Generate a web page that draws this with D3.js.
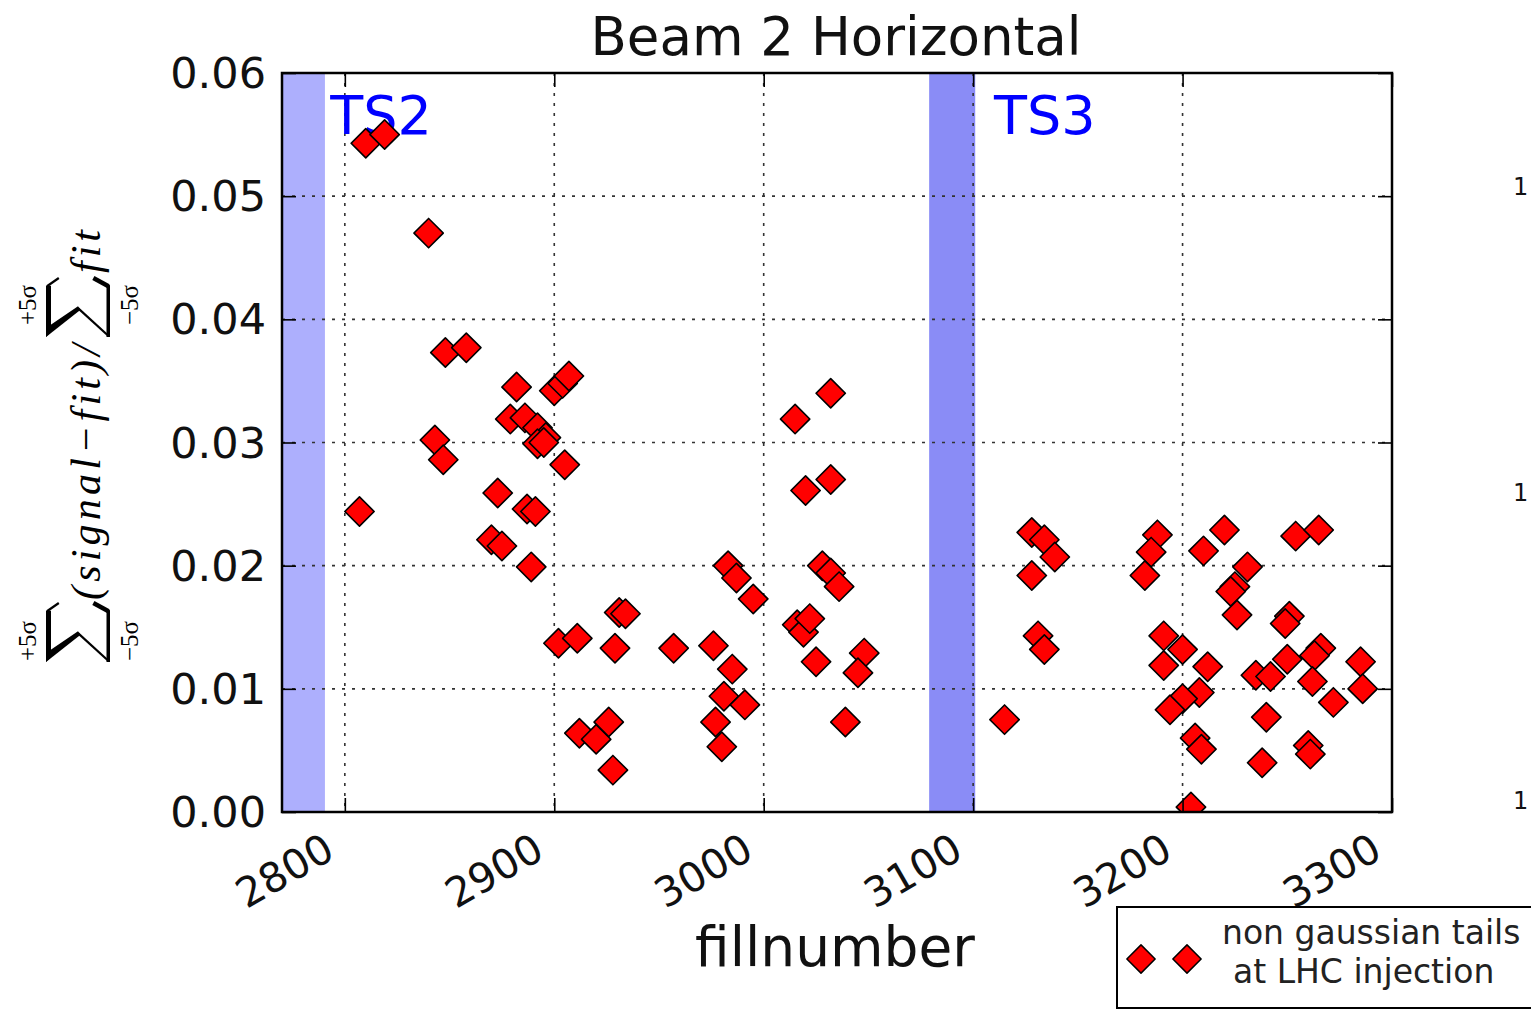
<!DOCTYPE html>
<html>
<head>
<meta charset="utf-8">
<script src="https://cdnjs.cloudflare.com/ajax/libs/d3/7.8.5/d3.min.js"></script>
<style>
  body { margin: 0; background: #fff; }
  svg { display: block; font-family: "DejaVu Sans", sans-serif; }
</style>
</head>
<body>
<svg id="chart" width="1531" height="1011"></svg>
<script>
// fill numbers and tail fractions
const fillNumbers = [
  2810, 2819, 2840, 2848, 2858, 2882, 2900, 2904, 2907, 2879,
  2886, 2892, 2896, 2843, 2847, 2892, 2895, 2905, 2807, 2873,
  2887, 2891, 2870, 2875, 2889, 2902, 2911, 2929, 2931, 2934,
  2912, 2920, 2926, 2928, 3032, 3015, 3032, 3020, 2983, 2987,
  2995, 3028, 3032, 3036, 3016, 3019, 3022, 2957, 2976, 2985,
  3025, 3048, 3045, 2981, 2991, 2977, 2980, 3039, 3128, 3134,
  3139, 3128, 3131, 3134, 3115, 3188, 3185, 3182, 3220, 3210,
  3231, 3225, 3223, 3226, 3254, 3265, 3251, 3249, 3191, 3200,
  3191, 3212, 3208, 3200, 3194, 3206, 3209, 3204, 3235, 3242,
  3250, 3266, 3263, 3262, 3272, 3285, 3286, 3240, 3238, 3260,
  3261
];
const tailValues = [
  0.0543, 0.0550, 0.0470, 0.0373, 0.0377, 0.0345, 0.0342, 0.0348, 0.0354, 0.0319,
  0.0320, 0.0312, 0.0304, 0.0302, 0.0286, 0.0299, 0.0300, 0.0282, 0.0244, 0.0259,
  0.0246, 0.0244, 0.0221, 0.0216, 0.0199, 0.0137, 0.0141, 0.0133, 0.0162, 0.0161,
  0.0064, 0.0059, 0.0073, 0.0034, 0.0340, 0.0319, 0.0270, 0.0261, 0.0200, 0.0190,
  0.0173, 0.0200, 0.0194, 0.0183, 0.0152, 0.0146, 0.0157, 0.0133, 0.0135, 0.0116,
  0.0122, 0.0129, 0.0113, 0.0094, 0.0087, 0.0073, 0.0053, 0.0073, 0.0227, 0.0221,
  0.0207, 0.0192, 0.0143, 0.0132, 0.0075, 0.0225, 0.0211, 0.0192, 0.0229, 0.0212,
  0.0199, 0.0183, 0.0179, 0.0160, 0.0224, 0.0229, 0.0159, 0.0153, 0.0143, 0.0132,
  0.0119, 0.0118, 0.0097, 0.0092, 0.0083, 0.0060, 0.0051, 0.0004, 0.0111, 0.0110,
  0.0124, 0.0133, 0.0127, 0.0106, 0.0089, 0.0122, 0.0100, 0.0077, 0.0040, 0.0054,
  0.0047
];

// technical stops
const stopNames = ["TS2", "TS3"];
const stopStart = [2760, 3079];
const stopEnd = [2790.5, 3101];
const stopLabelAt = [2793, 3110];
const stopColors = ["#adaffd", "#8a8cf6"];

const xTicks = [2800, 2900, 3000, 3100, 3200, 3300];
const yTicks = [0, 0.01, 0.02, 0.03, 0.04, 0.05, 0.06];

const legendLines = ["non gaussian tails", "at LHC injection"];

const plotLeft = 282, plotRight = 1392, plotTop = 73, plotBottom = 812;

const svg = d3.select("#chart");

const x = d3.scaleLinear().domain([2770, 3300]).range([plotLeft, plotRight]);
const y = d3.scaleLinear().domain([0, 0.06]).range([plotBottom, plotTop]);

const points = fillNumbers.map((f, i) => ({fill: f, value: tailValues[i]}));

svg.append("defs").append("clipPath").attr("id", "plotClip")
  .append("rect")
    .attr("x", plotLeft).attr("y", plotTop)
    .attr("width", plotRight - plotLeft).attr("height", plotBottom - plotTop);

// shaded stops
svg.append("g").attr("clip-path", "url(#plotClip)")
  .selectAll("rect")
  .data(stopNames)
  .enter()
    .append("rect")
    .attr("x", (d, i) => x(stopStart[i]))
    .attr("y", plotTop)
    .attr("width", (d, i) => x(stopEnd[i]) - x(stopStart[i]))
    .attr("height", plotBottom - plotTop)
    .style("fill", (d, i) => stopColors[i]);

// dotted grid
let grid = svg.append("g").attr("class", "grid");
grid.selectAll("line.gx")
  .data(xTicks.slice(0, -1))
  .enter()
    .append("line")
    .attr("x1", d => x(d)).attr("x2", d => x(d))
    .attr("y1", plotTop).attr("y2", plotBottom);
grid.selectAll("line.gy")
  .data(yTicks.slice(1, -1))
  .enter()
    .append("line")
    .attr("x1", plotLeft).attr("x2", plotRight)
    .attr("y1", d => y(d)).attr("y2", d => y(d));
grid.selectAll("line")
  .style("stroke", "#333")
  .style("stroke-width", 1.6)
  .style("stroke-dasharray", "3,7");

// stop labels
svg.selectAll("text.ts")
  .data(stopNames)
  .enter()
    .append("text")
    .attr("class", "ts")
    .attr("x", (d, i) => x(stopLabelAt[i]))
    .attr("y", 134)
    .style("font-size", "54px")
    .style("fill", "#0000ff")
    .text(d => d);

// diamond markers
const diamond = d3.symbol().type(d3.symbolSquare).size(430);
svg.append("g").attr("clip-path", "url(#plotClip)")
  .selectAll("path")
  .data(points)
  .enter()
    .append("path")
    .attr("d", diamond)
    .attr("transform", d => `translate(${x(d.fill)},${y(d.value)}) rotate(45)`)
    .style("fill", "#ff0000")
    .style("stroke", "#000")
    .style("stroke-width", 1.6)
    .style("stroke-linejoin", "round");

// axes frame with inward ticks on all sides
const tickLen = 14;
svg.append("g").attr("transform", `translate(0,${plotBottom})`)
  .call(d3.axisBottom(x).tickValues(xTicks).tickSize(-tickLen).tickFormat(""));
svg.append("g").attr("transform", `translate(0,${plotTop})`)
  .call(d3.axisTop(x).tickValues(xTicks).tickSize(-tickLen).tickFormat(""));
svg.append("g").attr("transform", `translate(${plotLeft},0)`)
  .call(d3.axisLeft(y).tickValues(yTicks).tickSize(-tickLen).tickFormat(""));
svg.append("g").attr("transform", `translate(${plotRight},0)`)
  .call(d3.axisRight(y).tickValues(yTicks).tickSize(-tickLen).tickFormat(""));
svg.selectAll(".domain").remove();
svg.selectAll(".tick line").style("stroke", "#000").style("stroke-width", 1.6);

svg.append("rect")
  .attr("x", plotLeft).attr("y", plotTop)
  .attr("width", plotRight - plotLeft).attr("height", plotBottom - plotTop)
  .style("fill", "none")
  .style("stroke", "#000")
  .style("stroke-width", 2.5);

// tick labels
svg.selectAll("text.ylab")
  .data(yTicks)
  .enter()
    .append("text")
    .attr("x", 266)
    .attr("y", d => y(d) + 15)
    .attr("text-anchor", "end")
    .style("font-size", "43px")
    .style("fill", "#111")
    .text(d => d3.format(".2f")(d));

svg.selectAll("text.xlab")
  .data(xTicks)
  .enter()
    .append("text")
    .attr("transform", d => `translate(${x(d) - 8},${plotBottom + 45}) rotate(-30)`)
    .attr("text-anchor", "end")
    .style("font-size", "41px")
    .style("fill", "#111")
    .text(d => d);

// title and x label
svg.append("text")
  .attr("x", 836).attr("y", 55)
  .attr("text-anchor", "middle")
  .style("font-size", "53px")
  .style("fill", "#111")
  .text("Beam 2 Horizontal");

svg.append("text")
  .attr("x", 835).attr("y", 966)
  .attr("text-anchor", "middle")
  .style("font-size", "55px")
  .style("fill", "#111")
  .text("fillnumber");

// y label (math), built in a rotated frame
let ylab = svg.append("g").attr("transform", "translate(100,660) rotate(-90)");
const serif = '"Liberation Serif", "DejaVu Serif", serif';

// summation sign drawn as strokes, limits above and below
function sumSign(x0, limitX) {
  const w = 59, h = 64;
  let g = ylab.append("g").attr("transform", `translate(${x0},-54)`);
  g.append("path")
    .attr("d", `M0,0 L${w * 0.87},0 L${w * 0.87},5 L5,5 Z`);
  g.append("path")
    .attr("d", `M0,0 L9,0 L${w * 0.52},${h * 0.5} L${w * 0.46},${h * 0.54} Z`);
  g.append("rect")
    .attr("x", 0).attr("y", h - 3.5)
    .attr("width", w * 0.88).attr("height", 3.5);
  g.selectAll("path, rect").style("fill", "#000");

  // thin strokes: lower diagonal and top flare
  g.append("line")
    .attr("x1", w * 0.49).attr("y1", h * 0.5)
    .attr("x2", 1.5).attr("y2", h - 2)
    .style("stroke", "#000").style("stroke-width", 2.2);
  g.append("line")
    .attr("x1", w * 0.86).attr("y1", 1)
    .attr("x2", w).attr("y2", h * 0.2)
    .style("stroke", "#000").style("stroke-width", 2.2);
  // heavy bottom flare
  g.append("line")
    .attr("x1", w * 0.86).attr("y1", h - 1.5)
    .attr("x2", w).attr("y2", h * 0.74)
    .style("stroke", "#000").style("stroke-width", 4.5);

  ylab.append("text")
    .attr("x", limitX).attr("y", -64)
    .attr("text-anchor", "middle")
    .style("font-family", serif)
    .style("font-size", "25px")
    .text("+5\u03c3");
  ylab.append("text")
    .attr("x", limitX).attr("y", 38)
    .attr("text-anchor", "middle")
    .style("font-family", serif)
    .style("font-size", "25px")
    .text("\u22125\u03c3");
}
sumSign(-2, 19);
ylab.append("text")
  .attr("x", 60).attr("y", 0)
  .attr("textLength", 256)
  .style("font-family", serif)
  .style("font-style", "italic")
  .style("font-size", "42px")
  .text("(signal\u2212fit)/");
sumSign(323, 355);
ylab.append("text")
  .attr("x", 387).attr("y", 0)
  .attr("textLength", 43)
  .style("font-family", serif)
  .style("font-style", "italic")
  .style("font-size", "42px")
  .text("fit");

// legend
let legend = svg.append("g");
legend.append("rect")
  .attr("x", 1117).attr("y", 907)
  .attr("width", 430).attr("height", 101)
  .style("fill", "#fff")
  .style("stroke", "#000")
  .style("stroke-width", 2);
legend.selectAll("path")
  .data([1141, 1187])
  .enter()
    .append("path")
    .attr("d", d3.symbol().type(d3.symbolSquare).size(400))
    .attr("transform", d => `translate(${d},959) rotate(45)`)
    .style("fill", "#ff0000")
    .style("stroke", "#000")
    .style("stroke-width", 1.5)
    .style("stroke-linejoin", "round");
legend.selectAll("text")
  .data(legendLines)
  .enter()
    .append("text")
    .attr("x", (d, i) => i === 0 ? 1222 : 1233)
    .attr("y", (d, i) => i === 0 ? 944 : 983)
    .style("font-size", "33px")
    .style("fill", "#222")
    .text(d => d);

// neighbouring axis labels at the right edge
svg.selectAll("text.side")
  .data([195, 501, 809])
  .enter()
    .append("text")
    .attr("x", 1513).attr("y", d => d)
    .style("font-size", "24px")
    .style("fill", "#111")
    .text("1");
</script>
</body>
</html>
